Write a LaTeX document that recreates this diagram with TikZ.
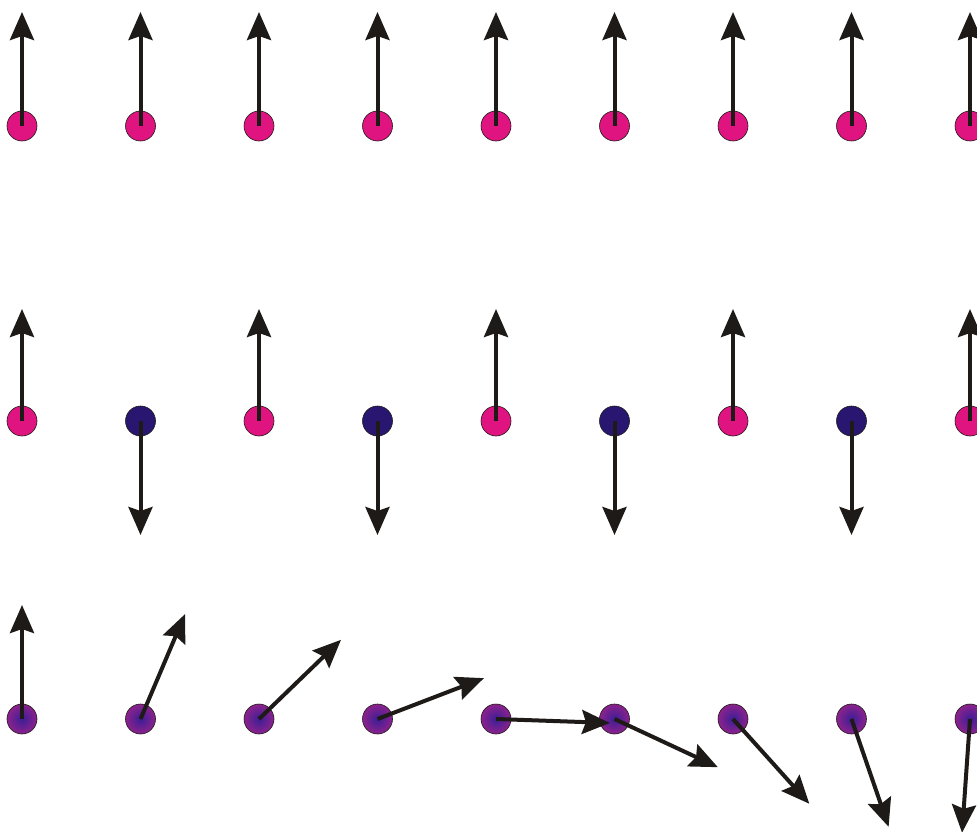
\documentclass[tikz,border=0pt]{standalone}
\usetikzlibrary{arrows.meta}
\definecolor{spinpink}{RGB}{224,20,128}
\definecolor{spinnavy}{RGB}{40,22,112}
\definecolor{spinpurple}{RGB}{140,34,140}
\definecolor{spincore}{RGB}{60,30,150}
\definecolor{spinink}{RGB}{30,26,24}
\tikzset{
  site/.style={circle, minimum size=30pt, inner sep=0pt, draw=spinink, line width=0.6pt},
  up/.style={site, fill=spinpink},
  down/.style={site, fill=spinnavy},
  tilted/.style={site, inner color=spincore, outer color=spinpurple},
  spin/.style={draw=spinink, line width=4pt,
    -{Stealth[length=28pt, width=24pt, inset=4pt]}}
}
\begin{document}
\begin{tikzpicture}[x=1pt, y=-1pt]
  \useasboundingbox (0,0) rectangle (977,832);
  % ferromagnetic row
  \foreach \i in {0,...,8} {
    \pgfmathsetmacro{\xx}{22+118.5*\i}
    \node[up] (a\i) at (\xx,126) {};
    \coordinate (ta\i) at (\xx,12);
  }
  % antiferromagnetic row
  \foreach \i in {0,...,8} {
    \pgfmathsetmacro{\xx}{22+118.5*\i}
    \pgfmathtruncatemacro{\odd}{mod(\i,2)}
    \ifnum\odd=0
      \node[up] (b\i) at (\xx,421) {};
      \coordinate (tb\i) at (\xx,309);
    \else
      \node[down] (b\i) at (\xx,421) {};
      \coordinate (tb\i) at (\xx,535);
    \fi
  }
  % spiral row
  \foreach \i in {0,...,8} {
    \pgfmathsetmacro{\xx}{22+118.5*\i}
    \pgfmathsetmacro{\tx}{\xx+114*cos(90-23*\i)}
    \pgfmathsetmacro{\ty}{719-114*sin(90-23*\i)}
    \node[tilted] (c\i) at (\xx,719) {};
    \coordinate (tc\i) at (\tx,\ty);
  }
  \foreach \i in {0,...,8} {
    \draw[spin] (a\i.center) -- (ta\i);
    \draw[spin] (b\i.center) -- (tb\i);
  }
  \foreach \i in {0,...,8} {
    \draw[spin] (c\i.center) -- (tc\i);
  }
\end{tikzpicture}
\end{document}
